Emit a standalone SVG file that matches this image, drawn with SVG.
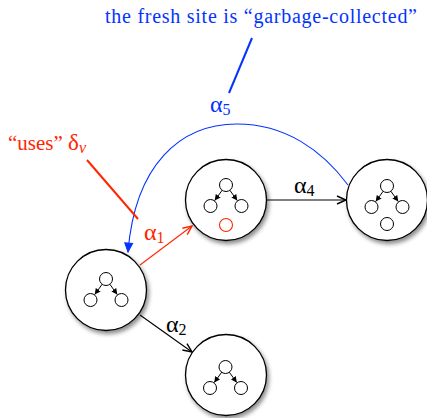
<svg xmlns="http://www.w3.org/2000/svg" xmlns:xlink="http://www.w3.org/1999/xlink" width="427" height="418" viewBox="0 0 427 418">
<style>
.node{fill:#fff;stroke:#000;stroke-width:1.3;filter:url(#sh)}
.sm{fill:#fff;stroke:#000;stroke-width:1}
text{font-family:"Liberation Serif","DejaVu Serif",serif}
.lbl{font-size:24px}
.sub{font-size:16px}
.blk{fill:#000}.red{fill:#ff2600}.blu{fill:#0433ff}
</style>
<defs>
<filter id="sh" x="-30%" y="-30%" width="170%" height="170%">
<feDropShadow dx="2" dy="3" stdDeviation="2" flood-color="#000" flood-opacity="0.45"/>
</filter>
<marker id="ak" markerUnits="userSpaceOnUse" markerWidth="12" markerHeight="12" refX="10" refY="5" orient="auto" viewBox="0 0 12 10">
<path d="M1,1 L10,5 L1,9" fill="none" stroke="#000" stroke-width="1.4"/>
</marker>
<marker id="ar" markerUnits="userSpaceOnUse" markerWidth="12" markerHeight="12" refX="10" refY="5" orient="auto" viewBox="0 0 12 10">
<path d="M1,1 L10,5 L1,9" fill="none" stroke="#ff2600" stroke-width="1.4"/>
</marker>
<marker id="ab" markerUnits="userSpaceOnUse" markerWidth="12" markerHeight="12" refX="10" refY="5" orient="auto" viewBox="0 0 12 10">
<path d="M1,1 L10,5 L1,9 Z" fill="#0433ff" stroke="#0433ff" stroke-width="1"/>
</marker>
<marker id="at" markerUnits="userSpaceOnUse" markerWidth="7" markerHeight="7" refX="6" refY="3" orient="auto" viewBox="0 0 7 6">
<path d="M0,0 L6,3 L0,6 Z" fill="#000"/>
</marker>
<g id="tree">
<circle class="sm" cx="0" cy="0" r="6.5"/>
<circle class="sm" cx="-15.5" cy="21" r="6.5"/>
<circle class="sm" cx="15.5" cy="21" r="6.5"/>
<line x1="-3.8" y1="5.2" x2="-11.3" y2="15.6" stroke="#000" stroke-width="1" marker-end="url(#at)"/>
<line x1="3.8" y1="5.2" x2="11.3" y2="15.6" stroke="#000" stroke-width="1" marker-end="url(#at)"/>
</g>
</defs>

<g id="connectors" fill="none">
<line x1="140" y1="265" x2="192" y2="226" stroke="#ff2600" stroke-width="1.1" marker-end="url(#ar)"/>
<line x1="140" y1="315" x2="192" y2="352" stroke="#000" stroke-width="1.1" marker-end="url(#ak)"/>
<line x1="267" y1="200" x2="346" y2="200" stroke="#000" stroke-width="1.1" marker-end="url(#ak)"/>
<path d="M348,185 C322,150 285,124 237,124 C180,124 135,165 128,252" stroke="#0433ff" stroke-width="1.1" marker-end="url(#ab)"/>
<line x1="252" y1="38" x2="229" y2="93" stroke="#0433ff" stroke-width="2"/>
<line x1="87" y1="160" x2="138" y2="219" stroke="#ff2600" stroke-width="2"/>
</g>

<g id="nodeA">
<circle class="node" cx="106" cy="290" r="40.5"/>
<use xlink:href="#tree" x="106" y="279"/>
</g>
<g id="nodeB">
<circle class="node" cx="226" cy="200" r="40.5"/>
<use xlink:href="#tree" x="226" y="185"/>
<circle cx="226" cy="225" r="6.5" fill="#fff" stroke="#ff2600" stroke-width="1.1"/>
</g>
<g id="nodeC">
<circle class="node" cx="387" cy="200" r="40.5"/>
<use xlink:href="#tree" x="387" y="186"/>
<circle class="sm" cx="387" cy="224" r="6.5"/>
</g>
<g id="nodeD">
<circle class="node" cx="226" cy="375" r="40.5"/>
<use xlink:href="#tree" x="225.5" y="367"/>
</g>

<g id="labels">
<text x="105" y="23" class="blu" font-size="20" textLength="312">the fresh site is “garbage-collected”</text>
<text x="8" y="150" class="red" font-size="21">“uses” <tspan font-size="23">δ</tspan><tspan class="sub" font-style="italic" dy="3">v</tspan></text>
<text x="144" y="240" class="red lbl">α<tspan class="sub" dy="3">1</tspan></text>
<text x="166" y="332" class="blk lbl">α<tspan class="sub" dy="3">2</tspan></text>
<text x="294" y="193" class="blk lbl">α<tspan class="sub" dy="3">4</tspan></text>
<text x="210" y="112" class="blu lbl">α<tspan class="sub" dy="3">5</tspan></text>
</g>
</svg>
